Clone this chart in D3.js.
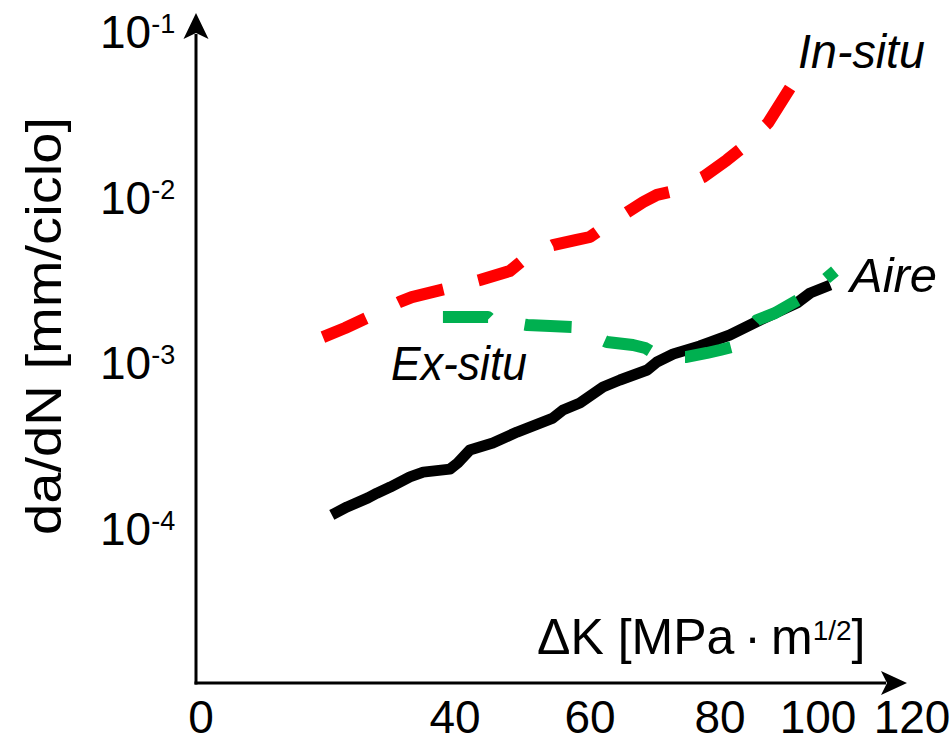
<!DOCTYPE html>
<html>
<head>
<meta charset="utf-8">
<script src="https://cdn.jsdelivr.net/npm/d3@7/dist/d3.min.js"></script>
<style>
  html, body { margin: 0; padding: 0; background: #fff; }
  svg { display: block; }
  text { font-family: "Liberation Sans", Arial, sans-serif; fill: #000; }
</style>
</head>
<body>
<svg id="chart" width="950" height="743"></svg>
<script>
// ---------- data ----------
const xTickValues = [0, 40, 60, 80, 100, 120];
const xTickLabels = ["0", "40", "60", "80", "100", "120"];
const yTickValues = [1e-1, 1e-2, 1e-3, 1e-4];
const yTickExponents = ["-1", "-2", "-3", "-4"];

const seriesNames = ["Aire", "Ex-situ", "In-situ"];

// Aire (black, solid)
const aireDK = [20.6, 23.0, 26.3, 27.7, 29.8, 32.9, 35.0, 39.2, 40.4, 42.2, 45.6, 49.2, 54.5, 56.0, 58.5,
                62.0, 64.6, 68.8, 70.3, 72.8, 76.9, 78.5, 82.0, 88.2, 95.7, 98.4, 102.6];
const aireRate = [1.19e-4, 1.33e-4, 1.51e-4, 1.61e-4, 1.755e-4, 2.02e-4, 2.16e-4, 2.25e-4, 2.45e-4, 2.94e-4,
                  3.24e-4, 3.77e-4, 4.58e-4, 5.12e-4, 5.64e-4, 7.05e-4, 7.77e-4, 8.93e-4, 9.98e-4, 1.115e-3,
                  1.246e-3, 1.317e-3, 1.452e-3, 1.789e-3, 2.265e-3, 2.603e-3, 2.909e-3];

// Ex-situ (green, dashed)
const exsituDK = [38.1, 42.2, 44.9, 45.2, 50.7, 54.1, 57.5, 62.6, 66.6, 68.5, 69.5, 72.0, 74.9, 78.0, 80.0,
                  82.4, 87.6, 91.2, 95.9, 98.4, 103.6];
const exsituRate = [1.865e-3, 1.865e-3, 1.865e-3, 1.814e-3, 1.669e-3, 1.646e-3, 1.623e-3, 1.317e-3, 1.264e-3,
                    1.212e-3, 1.147e-3, 1.07e-3, 1.07e-3, 1.131e-3, 1.179e-3, 1.229e-3, 1.789e-3, 1.968e-3,
                    2.362e-3, 2.64e-3, 3.53e-3];

// In-situ (red, dashed)
const insituDK = [19.2, 22.7, 26.1, 31.3, 33.2, 38.4, 43.7, 48.1, 49.9, 54.5, 58.0, 60.0, 61.5, 65.8, 68.2,
                  70.3, 72.3, 77.4, 81.4, 84.5, 89.8, 94.3];
const insituRate = [1.41e-3, 1.60e-3, 1.84e-3, 2.30e-3, 2.46e-3, 2.75e-3, 3.12e-3, 3.53e-3, 4.06e-3, 5.07e-3,
                    5.44e-3, 5.67e-3, 6.25e-3, 8.03e-3, 9.22e-3, 1.017e-2, 1.06e-2, 1.305e-2, 1.653e-2,
                    1.953e-2, 2.765e-2, 4.50e-2];

// ---------- drawing ----------
const svg = d3.select("#chart");

// hand-placed (non-uniform) tick spacing of the original sketch
const x = d3.scaleLinear().domain(xTickValues).range([201, 455, 590, 720, 818, 912]);
const y = d3.scaleLog().domain([1e-4, 1e-1]).range([527.5, 30.5]);

const axisX0 = 196, axisY0 = 683;

// axes lines with arrow heads
svg.append("line").attr("x1", axisX0).attr("y1", axisY0 + 1.5).attr("x2", axisX0).attr("y2", 34)
  .attr("stroke", "#000").attr("stroke-width", 3);
svg.append("line").attr("x1", axisX0 - 1.5).attr("y1", axisY0).attr("x2", 886).attr("y2", axisY0)
  .attr("stroke", "#000").attr("stroke-width", 3);
// y arrow (tip up)
svg.append("path")
  .attr("d", `M${axisX0},13 L${axisX0 + 12.5},39 L${axisX0},33 L${axisX0 - 12.5},39 Z`)
  .attr("fill", "#000");
// x arrow (tip right)
svg.append("path")
  .attr("d", `M907,${axisY0} L881,${axisY0 - 12} L887,${axisY0} L881,${axisY0 + 12} Z`)
  .attr("fill", "#000");

// x tick labels
svg.append("g").selectAll("text").data(xTickValues).join("text")
  .attr("x", d => x(d)).attr("y", 733)
  .attr("text-anchor", "middle").attr("font-size", 46)
  .text((d, i) => xTickLabels[i]);

// y tick labels (10^n)
const yl = svg.append("g").selectAll("text").data(yTickValues).join("text")
  .attr("x", 100).attr("y", d => y(d) + 17.5)
  .attr("font-size", 46);
yl.append("tspan").text("10");
yl.append("tspan").attr("font-size", 27).attr("dy", -15).text((d, i) => yTickExponents[i]);

// axis titles
const xt = svg.append("text").attr("x", 537).attr("y", 654).attr("font-size", 50);
xt.append("tspan").text("\u0394K [MPa\u2009\u00B7\u2009m");
xt.append("tspan").attr("font-size", 28).attr("dy", -14).text("1/2");
xt.append("tspan").attr("dy", 14).text("]");

svg.append("text")
  .attr("transform", "translate(61,326) rotate(-90)")
  .attr("text-anchor", "middle").attr("font-size", 50)
  .attr("textLength", 418).attr("lengthAdjust", "spacingAndGlyphs")
  .text("da/dN [mm/ciclo]");

// series lines
const line = d3.line().x(d => x(d[0])).y(d => y(d[1])).curve(d3.curveLinear);

const aire = d3.zip(aireDK, aireRate);
const exsitu = d3.zip(exsituDK, exsituRate);
const insitu = d3.zip(insituDK, insituRate);

svg.append("path").datum(aire).attr("d", line)
  .attr("fill", "none").attr("stroke", "#000").attr("stroke-width", 11)
  .attr("stroke-linejoin", "round").attr("stroke-linecap", "butt");

svg.append("path").datum(exsitu).attr("d", line)
  .attr("fill", "none").attr("stroke", "#00b050").attr("stroke-width", 12)
  .attr("stroke-dasharray", "47 36")
  .attr("stroke-linejoin", "round").attr("stroke-linecap", "butt");

svg.append("path").datum(insitu).attr("d", line)
  .attr("fill", "none").attr("stroke", "#ff0000").attr("stroke-width", 12)
  .attr("stroke-dasharray", "47 36")
  .attr("stroke-linejoin", "round").attr("stroke-linecap", "butt");

// series labels (italic)
const labelStyle = sel => sel.attr("font-size", 48).attr("font-style", "italic")
  .attr("lengthAdjust", "spacingAndGlyphs");
svg.append("text").attr("x", 798).attr("y", 68).call(labelStyle).attr("textLength", 127).text(seriesNames[2]);
svg.append("text").attr("x", 850).attr("y", 292).call(labelStyle).attr("textLength", 87).text(seriesNames[0]);
svg.append("text").attr("x", 391).attr("y", 380).call(labelStyle).attr("textLength", 136).text(seriesNames[1]);
</script>
</body>
</html>
